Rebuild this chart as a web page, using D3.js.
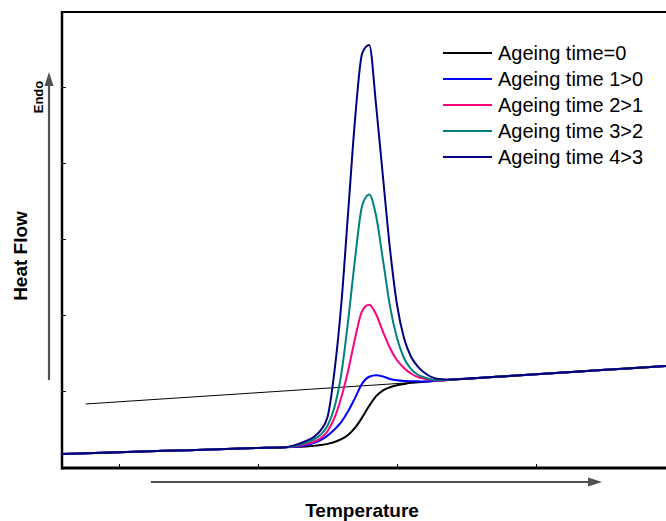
<!DOCTYPE html>
<html>
<head>
<meta charset="utf-8">
<script src="https://cdn.jsdelivr.net/npm/d3@7/dist/d3.min.js"></script>
<style>
  html, body { margin: 0; padding: 0; background: #fff; }
  svg { display: block; }
  text { font-family: "Liberation Sans", Arial, sans-serif; }
</style>
</head>
<body>
<svg id="chart" width="666" height="521"></svg>
<script>
// ---------- DATA ----------
const temperature = [31.8, 40, 50, 60, 64,
  66, 67, 68, 69, 70, 71, 72, 73, 74, 75, 76, 77, 78, 79, 80, 81, 82, 83, 84,
  86, 88, 90, 95, 100, 110, 118.7];

const ageing0 = [0.171, 0.195, 0.222, 0.250, 0.261,
  0.267, 0.271, 0.278, 0.289, 0.304, 0.329, 0.366, 0.425, 0.520, 0.654, 0.805, 0.933, 1.009, 1.050, 1.075, 1.092, 1.107, 1.114, 1.122,
  1.138, 1.150, 1.162, 1.191, 1.220, 1.278, 1.329];

const ageing1 = [0.171, 0.195, 0.222, 0.250, 0.261,
  0.274, 0.286, 0.314, 0.353, 0.413, 0.493, 0.595, 0.739, 0.916, 1.100, 1.188, 1.208, 1.191, 1.159, 1.141, 1.132, 1.129, 1.128, 1.124,
  1.138, 1.150, 1.162, 1.191, 1.220, 1.278, 1.329];

const ageing2 = [0.171, 0.195, 0.222, 0.250, 0.261,
  0.283, 0.303, 0.329, 0.378, 0.471, 0.645, 0.921, 1.280, 1.708, 2.057, 2.134, 2.007, 1.776, 1.563, 1.404, 1.303, 1.230, 1.184, 1.162,
  1.139, 1.150, 1.162, 1.191, 1.220, 1.278, 1.329];

const ageing3 = [0.171, 0.195, 0.222, 0.250, 0.261,
  0.293, 0.320, 0.359, 0.424, 0.542, 0.786, 1.233, 1.950, 2.768, 3.442, 3.584, 3.299, 2.711, 2.111, 1.697, 1.434, 1.291, 1.214, 1.178,
  1.143, 1.150, 1.162, 1.191, 1.220, 1.278, 1.329];

const ageing4 = [0.171, 0.195, 0.222, 0.250, 0.261,
  0.309, 0.345, 0.393, 0.482, 0.657, 1.259, 2.161, 3.392, 4.614, 5.447, 5.553, 4.750, 3.796, 2.861, 2.136, 1.697, 1.454, 1.322, 1.237,
  1.159, 1.152, 1.162, 1.191, 1.220, 1.278, 1.329];

// tangent (onset construction) line: two end points
const tangentT = [35.2, 84];
const tangentV = [0.829, 1.122];

const seriesNames = ["Ageing time=0", "Ageing time 1>0", "Ageing time 2>1", "Ageing time 3>2", "Ageing time 4>3"];
const seriesColors = ["#000000", "#0000ff", "#ff0080", "#008080", "#000080"];
const seriesValues = [ageing0, ageing1, ageing2, ageing3, ageing4];

const xTicks = [40, 60, 80, 100];
const yTicks = [0, 1, 2, 3, 4, 5];

// ---------- CHART ----------
const svg = d3.select("#chart");
const pLeft = 62, pRight = 666, pTop = 12, pBottom = 468;

const x = d3.scaleLinear().domain([31.8, 118.7]).range([pLeft, pRight]);
const y = d3.scaleLinear().domain([0, 6]).range([467, 11]);

// top frame line
svg.append("line")
  .attr("x1", pLeft).attr("x2", pRight + 10)
  .attr("y1", pTop).attr("y2", pTop)
  .attr("stroke", "#000").attr("stroke-width", 2);

// bottom axis (ticks inward, no labels)
const gx = svg.append("g").attr("transform", `translate(0,${pBottom})`)
  .call(d3.axisBottom(x).tickValues(xTicks).tickSize(-4).tickSizeOuter(0).tickFormat(""));
gx.select(".domain").attr("stroke-width", 3).attr("d", `M${pLeft},0H${pRight + 10}`);
gx.selectAll(".tick line").attr("stroke-width", 1);

// left axis
const gy = svg.append("g").attr("transform", `translate(${pLeft},0)`)
  .call(d3.axisLeft(y).tickValues(yTicks).tickSize(-4).tickSizeOuter(0).tickFormat(""));
gy.select(".domain").attr("stroke-width", 2.5).attr("d", `M0,${pTop - 1}V${pBottom + 1.5}`);
gy.selectAll(".tick line").attr("stroke-width", 1);

// tangent line
svg.append("path")
  .datum(tangentT.map((t, i) => [t, tangentV[i]]))
  .attr("fill", "none").attr("stroke", "#000").attr("stroke-width", 1)
  .attr("d", d3.line().x(d => x(d[0])).y(d => y(d[1])));

// curves
const line = d3.line().x(d => x(d[0])).y(d => y(d[1])).curve(d3.curveMonotoneX);
seriesValues.forEach((vals, i) => {
  svg.append("path")
    .datum(temperature.map((t, j) => [t, vals[j]]))
    .attr("fill", "none")
    .attr("stroke", seriesColors[i])
    .attr("stroke-width", 2)
    .attr("stroke-linejoin", "round")
    .attr("d", line);
});

// legend
const lg = svg.append("g");
seriesNames.forEach((name, i) => {
  const yy = 53 + i * 26;
  lg.append("line").attr("x1", 443).attr("x2", 492).attr("y1", yy).attr("y2", yy)
    .attr("stroke", seriesColors[i]).attr("stroke-width", 2);
  lg.append("text").attr("x", 498).attr("y", yy + 7)
    .attr("font-size", 20).attr("fill", "#000").text(name);
});

// arrows
const arrowColor = "#505050";
svg.append("line").attr("x1", 151).attr("x2", 590).attr("y1", 482).attr("y2", 482)
  .attr("stroke", arrowColor).attr("stroke-width", 2.2);
svg.append("path").attr("d", "M588,477.5L602,482L588,486.5Z").attr("fill", arrowColor);
svg.append("line").attr("x1", 49).attr("x2", 49).attr("y1", 380).attr("y2", 84)
  .attr("stroke", arrowColor).attr("stroke-width", 2.2);
svg.append("path").attr("d", "M44.5,86L49,72L53.5,86Z").attr("fill", arrowColor);

// axis labels
svg.append("text").attr("transform", "translate(27,256) rotate(-90)")
  .attr("text-anchor", "middle").attr("font-size", 19).attr("font-weight", "bold")
  .text("Heat Flow");
svg.append("text").attr("transform", "translate(43,97) rotate(-90)")
  .attr("text-anchor", "middle").attr("font-size", 13).attr("font-weight", "bold")
  .text("Endo");
svg.append("text").attr("x", 362).attr("y", 517)
  .attr("text-anchor", "middle").attr("font-size", 19).attr("font-weight", "bold")
  .text("Temperature");
</script>
</body>
</html>
